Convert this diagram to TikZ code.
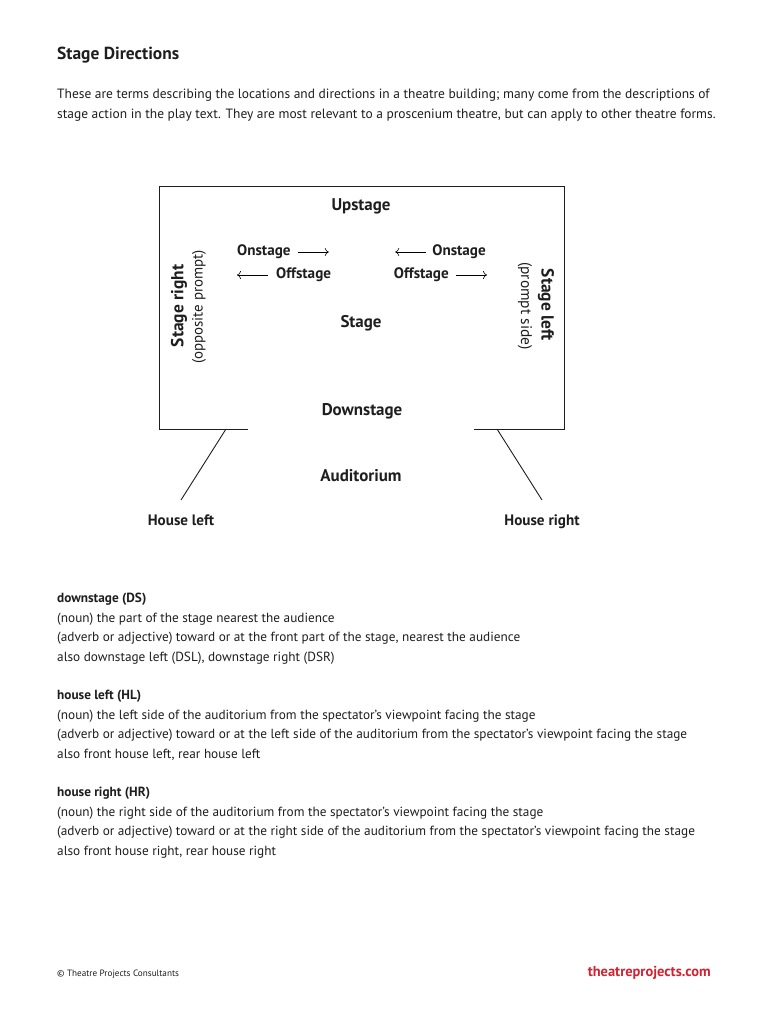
\documentclass[tikz,border=0pt]{standalone}
\usepackage{fontspec}
\setmainfont{PT Sans}
\usepackage{tikz}
\usetikzlibrary{arrows.meta,positioning}

\definecolor{inkgray}{RGB}{30,30,30}
\definecolor{tpred}{RGB}{205,35,50}

\begin{document}
\begin{tikzpicture}[
    x=1bp, y=-1bp,
    label/.style={inner sep=0pt, font=\fontsize{17}{20}\selectfont\bfseries, text=inkgray},
    dirlabel/.style={inner sep=0pt, font=\fontsize{15.2}{18}\selectfont\bfseries, text=inkgray},
    bodytext/.style={inner sep=0pt, anchor=base west, align=left, text=inkgray},
    dirarrow/.style={-{Computer Modern Rightarrow[length=4bp,width=8bp]}, line width=0.6bp},
    wall/.style={line width=0.9bp, inkgray},
    node distance=6bp
]
\useasboundingbox (0,0) rectangle (768,1024);

% heading and intro
\node[bodytext, font=\fontsize{17.5}{21}\selectfont\bfseries] (title) at (57,59) {Stage Directions};
\node[bodytext, font=\fontsize{13.5}{19.5}\selectfont] (intro) at (57,118)
  {These are terms describing the locations and directions in a theatre building; many come from the descriptions of\\
   stage action in the play text. They are most relevant to a proscenium theatre, but can apply to other theatre forms.};

% stage outline
\coordinate (sw) at (159,429);
\coordinate (nw) at (159,186);
\coordinate (ne) at (564,186);
\coordinate (se) at (564,429);
\coordinate (pl) at (248,429);
\coordinate (pr) at (474,429);
\draw[wall] (pl) -- (sw) -- (nw) -- (ne) -- (se) -- (pr);

\node[label] (up) at (361,206) {Upstage};
\node[label] (stage) at (361,323) {Stage};
\node[label] (down) at (362,411) {Downstage};
\node[label] (aud) at (361,476) {Auditorium};

% sides
\node[label, font=\fontsize{17.5}{21}\selectfont\bfseries, rotate=90] (sr) at (179,306) {Stage right};
\node[inner sep=0pt, font=\fontsize{15}{18}\selectfont, text=inkgray, rotate=90] (srp) at (199,307) {(opposite prompt)};
\node[label, font=\fontsize{17.5}{21}\selectfont\bfseries, rotate=-90] (sl) at (546,305) {Stage left};
\node[inner sep=0pt, font=\fontsize{15.5}{18}\selectfont, text=inkgray, rotate=-90] (slp) at (525,306) {(prompt side)};

% on/off arrows
\node[dirlabel, anchor=west] (onl) at (237,252) {Onstage};
\node[dirlabel, anchor=west] (offl) at (276,275) {Offstage};
\node[dirlabel, anchor=east] (onr) at (486,252) {Onstage};
\node[dirlabel, anchor=east] (offr) at (449,275) {Offstage};
\draw[dirarrow] ([xshift=7bp]onl.east) -- ++(31,0);
\draw[dirarrow] ([xshift=-8bp]offl.west) -- ++(-31,0);
\draw[dirarrow] ([xshift=-6bp]onr.west) -- ++(-31,0);
\draw[dirarrow] ([xshift=7bp]offr.east) -- ++(31,0);

% house sides
\coordinate (hlfoot) at (226,429);
\coordinate (hltip) at (181,500);
\coordinate (hrfoot) at (497,429);
\coordinate (hrtip) at (542,500);
\draw[wall] (hlfoot) -- (hltip);
\draw[wall] (hrfoot) -- (hrtip);
\node[dirlabel, below=15bp of hltip] (hl) {House left};
\node[dirlabel, below=15bp of hrtip] (hr) {House right};

% definitions
\node[bodytext, font=\fontsize{13.3}{19.5}\selectfont] (ds) at (57,661)
  {\textbf{downstage (DS)}\\
   (noun) the part of the stage nearest the audience\\
   (adverb or adjective) toward or at the front part of the stage, nearest the audience\\
   also downstage left (DSL), downstage right (DSR)};
\node[bodytext, font=\fontsize{13.3}{19.5}\selectfont] (hldef) at (57,758)
  {\textbf{house left (HL)}\\
   (noun) the left side of the auditorium from the spectator’s viewpoint facing the stage\\
   (adverb or adjective) toward or at the left side of the auditorium from the spectator’s viewpoint facing the stage\\
   also front house left, rear house left};
\node[bodytext, font=\fontsize{13.3}{19.5}\selectfont] (hrdef) at (57,855)
  {\textbf{house right (HR)}\\
   (noun) the right side of the auditorium from the spectator’s viewpoint facing the stage\\
   (adverb or adjective) toward or at the right side of the auditorium from the spectator’s viewpoint facing the stage\\
   also front house right, rear house right};

% footer
\node[bodytext, font=\fontsize{9.2}{11}\selectfont] (copy) at (57,976) {© Theatre Projects Consultants};
\node[inner sep=0pt, anchor=base east, font=\fontsize{14.5}{17}\selectfont\bfseries, text=tpred] (web) at (711,976) {theatreprojects.com};
\end{tikzpicture}
\end{document}
